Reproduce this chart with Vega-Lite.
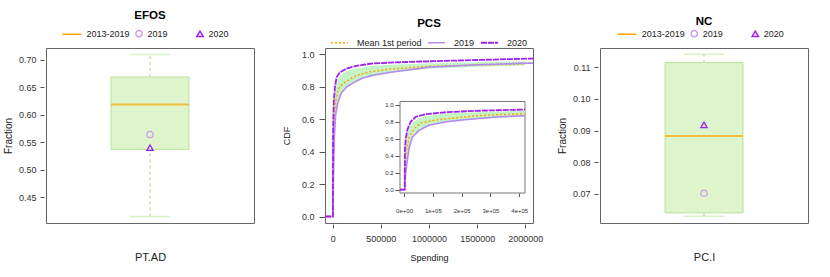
{
  "$schema": "https://vega.github.io/schema/vega-lite/v6.json",
  "background": "white",
  "padding": {"left": 2, "top": 9, "right": 5, "bottom": 5},
  "datasets": {
    "efos_box": [{"cat": "PT.AD", "min": 0.4146, "q1": 0.537, "median": 0.619, "q3": 0.669, "max": 0.710}],
    "efos_pts": [{"cat": "PT.AD", "s": "2019", "val": 0.564}, {"cat": "PT.AD", "s": "2020", "val": 0.540}],
    "nc_box": [{"cat": "PC.I", "min": 0.0629, "q1": 0.0640, "median": 0.0883, "q3": 0.1115, "max": 0.1141}],
    "nc_pts": [{"cat": "PC.I", "s": "2019", "val": 0.0702}, {"cat": "PC.I", "s": "2020", "val": 0.0918}],
    "band": [
      {"spending": 0, "lo": 0, "hi": 0},
      {"spending": 2500, "lo": 0, "hi": 0},
      {"spending": 4000, "lo": 0.15, "hi": 0.4},
      {"spending": 9400, "lo": 0.33, "hi": 0.62},
      {"spending": 17400, "lo": 0.51, "hi": 0.73},
      {"spending": 29000, "lo": 0.64, "hi": 0.79},
      {"spending": 52000, "lo": 0.71, "hi": 0.845},
      {"spending": 87000, "lo": 0.765, "hi": 0.875},
      {"spending": 145000, "lo": 0.805, "hi": 0.897},
      {"spending": 214000, "lo": 0.83, "hi": 0.91},
      {"spending": 313000, "lo": 0.857, "hi": 0.92},
      {"spending": 420000, "lo": 0.873, "hi": 0.93},
      {"spending": 600000, "lo": 0.89, "hi": 0.937},
      {"spending": 1000000, "lo": 0.912, "hi": 0.945},
      {"spending": 1500000, "lo": 0.925, "hi": 0.952},
      {"spending": 2000000, "lo": 0.932, "hi": 0.958}
    ],
    "curves": [
      {"series": "Mean 1st period", "spending": -80000, "cdf": 0},
      {"series": "Mean 1st period", "spending": -14000, "cdf": 0},
      {"series": "Mean 1st period", "spending": 0, "cdf": 0},
      {"series": "Mean 1st period", "spending": 2500, "cdf": 0},
      {"series": "Mean 1st period", "spending": 4000, "cdf": 0.3},
      {"series": "Mean 1st period", "spending": 10000, "cdf": 0.5},
      {"series": "Mean 1st period", "spending": 20000, "cdf": 0.64},
      {"series": "Mean 1st period", "spending": 35000, "cdf": 0.72},
      {"series": "Mean 1st period", "spending": 58000, "cdf": 0.786},
      {"series": "Mean 1st period", "spending": 90000, "cdf": 0.81},
      {"series": "Mean 1st period", "spending": 139000, "cdf": 0.833},
      {"series": "Mean 1st period", "spending": 200000, "cdf": 0.855},
      {"series": "Mean 1st period", "spending": 255000, "cdf": 0.872},
      {"series": "Mean 1st period", "spending": 330000, "cdf": 0.885},
      {"series": "Mean 1st period", "spending": 420000, "cdf": 0.896},
      {"series": "Mean 1st period", "spending": 600000, "cdf": 0.91},
      {"series": "Mean 1st period", "spending": 1000000, "cdf": 0.927},
      {"series": "Mean 1st period", "spending": 1500000, "cdf": 0.935},
      {"series": "Mean 1st period", "spending": 2000000, "cdf": 0.942},
      {"series": "2019", "spending": -80000, "cdf": 0},
      {"series": "2019", "spending": -14000, "cdf": 0},
      {"series": "2019", "spending": 0, "cdf": 0},
      {"series": "2019", "spending": 2500, "cdf": 0},
      {"series": "2019", "spending": 4000, "cdf": 0.12},
      {"series": "2019", "spending": 9400, "cdf": 0.3},
      {"series": "2019", "spending": 17400, "cdf": 0.49},
      {"series": "2019", "spending": 29000, "cdf": 0.62},
      {"series": "2019", "spending": 52000, "cdf": 0.70},
      {"series": "2019", "spending": 87000, "cdf": 0.76},
      {"series": "2019", "spending": 145000, "cdf": 0.80},
      {"series": "2019", "spending": 214000, "cdf": 0.826},
      {"series": "2019", "spending": 313000, "cdf": 0.855},
      {"series": "2019", "spending": 420000, "cdf": 0.872},
      {"series": "2019", "spending": 600000, "cdf": 0.89},
      {"series": "2019", "spending": 1000000, "cdf": 0.922},
      {"series": "2019", "spending": 1500000, "cdf": 0.936},
      {"series": "2019", "spending": 2000000, "cdf": 0.946},
      {"series": "2019", "spending": 2080000, "cdf": 0.947},
      {"series": "2020", "spending": -80000, "cdf": 0},
      {"series": "2020", "spending": -14000, "cdf": 0},
      {"series": "2020", "spending": 0, "cdf": 0},
      {"series": "2020", "spending": 2500, "cdf": 0},
      {"series": "2020", "spending": 3000, "cdf": 0.48},
      {"series": "2020", "spending": 6000, "cdf": 0.60},
      {"series": "2020", "spending": 12000, "cdf": 0.71},
      {"series": "2020", "spending": 23000, "cdf": 0.80},
      {"series": "2020", "spending": 41000, "cdf": 0.86},
      {"series": "2020", "spending": 75000, "cdf": 0.89},
      {"series": "2020", "spending": 140000, "cdf": 0.912},
      {"series": "2020", "spending": 214000, "cdf": 0.925},
      {"series": "2020", "spending": 300000, "cdf": 0.935},
      {"series": "2020", "spending": 420000, "cdf": 0.945},
      {"series": "2020", "spending": 600000, "cdf": 0.95},
      {"series": "2020", "spending": 1000000, "cdf": 0.958},
      {"series": "2020", "spending": 1500000, "cdf": 0.966},
      {"series": "2020", "spending": 2000000, "cdf": 0.974},
      {"series": "2020", "spending": 2080000, "cdf": 0.975}
    ]
  },
  "hconcat": [
    {
      "width": 208,
      "height": 175,
      "title": {"text": "EFOS", "offset": 8},
      "encoding": {
        "x": {"field": "cat", "type": "nominal", "axis": {"labels": false, "ticks": false, "title": "PT.AD", "titleFontSize": 11, "titlePadding": 28}}
      },
      "layer": [
        {
          "data": {"name": "efos_box"},
          "mark": {"type": "rule", "strokeDash": [3, 3], "color": "#a5d98a", "strokeWidth": 1},
          "encoding": {
            "y": {"field": "q3", "type": "quantitative", "scale": {"domain": [0.4028, 0.7218], "nice": false, "zero": false},
                  "axis": {"title": "Fraction", "titleFontSize": 10, "values": [0.45, 0.5, 0.55, 0.6, 0.65, 0.7], "format": ".2f", "offset": 2, "tickSize": 4, "labelPadding": 4, "titlePadding": 5, "labelOverlap": false, "labelSeparation": 0}},
            "y2": {"field": "max"}
          }
        },
        {
          "data": {"name": "efos_box"},
          "mark": {"type": "rule", "strokeDash": [3, 3], "color": "#a5d98a", "strokeWidth": 1},
          "encoding": {
            "y": {"field": "min", "type": "quantitative",
                  "axis": {"title": "Fraction", "titleFontSize": 10, "values": [0.45, 0.5, 0.55, 0.6, 0.65, 0.7], "format": ".2f", "offset": 2, "tickSize": 4, "labelPadding": 4, "titlePadding": 5, "labelOverlap": false, "labelSeparation": 0}},
            "y2": {"field": "q1"}
          }
        },
        {
          "data": {"name": "efos_box"},
          "mark": {"type": "tick", "size": 40, "thickness": 1.5, "color": "#c8ecb0"},
          "encoding": {"y": {"field": "min", "type": "quantitative",
                  "axis": {"title": "Fraction", "titleFontSize": 10, "values": [0.45, 0.5, 0.55, 0.6, 0.65, 0.7], "format": ".2f", "offset": 2, "tickSize": 4, "labelPadding": 4, "titlePadding": 5, "labelOverlap": false, "labelSeparation": 0}}}
        },
        {
          "data": {"name": "efos_box"},
          "mark": {"type": "tick", "size": 40, "thickness": 1.5, "color": "#c8ecb0"},
          "encoding": {"y": {"field": "max", "type": "quantitative",
                  "axis": {"title": "Fraction", "titleFontSize": 10, "values": [0.45, 0.5, 0.55, 0.6, 0.65, 0.7], "format": ".2f", "offset": 2, "tickSize": 4, "labelPadding": 4, "titlePadding": 5, "labelOverlap": false, "labelSeparation": 0}}}
        },
        {
          "data": {"name": "efos_box"},
          "mark": {"type": "bar", "size": 78, "fill": "#def4cd", "stroke": "#b8e39c", "strokeWidth": 1},
          "encoding": {"y": {"field": "q1", "type": "quantitative",
                  "axis": {"title": "Fraction", "titleFontSize": 10, "values": [0.45, 0.5, 0.55, 0.6, 0.65, 0.7], "format": ".2f", "offset": 2, "tickSize": 4, "labelPadding": 4, "titlePadding": 5, "labelOverlap": false, "labelSeparation": 0}}, "y2": {"field": "q3"}}
        },
        {
          "data": {"name": "efos_box"},
          "mark": {"type": "tick", "size": 78, "thickness": 2, "color": "#FFA500"},
          "encoding": {"y": {"field": "median", "type": "quantitative",
                  "axis": {"title": "Fraction", "titleFontSize": 10, "values": [0.45, 0.5, 0.55, 0.6, 0.65, 0.7], "format": ".2f", "offset": 2, "tickSize": 4, "labelPadding": 4, "titlePadding": 5, "labelOverlap": false, "labelSeparation": 0}}}
        },
        {
          "data": {"name": "efos_pts"},
          "mark": {"type": "point", "filled": false, "size": 40, "strokeWidth": 1.3, "opacity": 1},
          "encoding": {
            "y": {"field": "val", "type": "quantitative",
                  "axis": {"title": "Fraction", "titleFontSize": 10, "values": [0.45, 0.5, 0.55, 0.6, 0.65, 0.7], "format": ".2f", "offset": 2, "tickSize": 4, "labelPadding": 4, "titlePadding": 5, "labelOverlap": false, "labelSeparation": 0}},
            "color": {"field": "s", "type": "nominal", "scale": {"domain": ["2013-2019", "2019", "2020"], "range": ["#FFA500", "#C8A0E8", "#A020F0"]},
                      "legend": {"orient": "none", "legendX": 27.5, "legendY": -19, "direction": "horizontal", "columns": 3, "gridAlign": "all", "columnPadding": 2, "labelOffset": 4, "title": null, "symbolSize": 40, "symbolStrokeWidth": 1.5}},
            "shape": {"field": "s", "type": "nominal", "scale": {"domain": ["2013-2019", "2019", "2020"], "range": ["M-5,0H1", "circle", "triangle-up"]},
                      "legend": {"orient": "none", "legendX": 27.5, "legendY": -19, "direction": "horizontal", "columns": 3, "gridAlign": "all", "columnPadding": 2, "labelOffset": 4, "title": null, "symbolSize": 40, "symbolStrokeWidth": 1.5}}
          }
        }
      ]
    },
    {
      "spacing": 67,
      "bounds": "flush",
      "hconcat": [
        {
          "width": 208,
          "height": 175,
          "title": {"text": "PCS", "offset": 4},
          "layer": [
            {
              "encoding": {
                "x": {"field": "spending", "type": "quantitative", "scale": {"domain": [-80000, 2080000], "nice": false, "zero": false},
                      "axis": {"title": "Spending", "values": [0, 500000, 1000000, 1500000, 2000000], "format": "d", "tickSize": 4, "offset": 1, "labelPadding": 6, "titlePadding": 10, "labelOverlap": false}},
                "y": {"type": "quantitative", "scale": {"domain": [-0.04, 1.04], "nice": false, "zero": false},
                      "axis": {"title": "CDF", "values": [0, 0.2, 0.4, 0.6, 0.8, 1], "format": ".1f", "tickSize": 6, "offset": 0, "labelPadding": 5, "titlePadding": 10, "labelOverlap": false}}
              },
              "layer": [
                {
                  "data": {"name": "band"},
                  "mark": {"type": "area", "color": "#c4f3c4"},
                  "encoding": {
                    "y": {"field": "lo"},
                    "y2": {"field": "hi"}
                  }
                },
                {
                  "data": {"name": "curves"},
                  "mark": {"type": "line", "strokeJoin": "round"},
                  "encoding": {
                    "y": {"field": "cdf"},
                    "color": {"field": "series", "type": "nominal", "scale": {"domain": ["Mean 1st period", "2019", "2020"], "range": ["#FFA500", "#B48CF0", "#A020F0"]},
                              "legend": {"orient": "none", "legendX": 5, "legendY": -15, "direction": "horizontal", "title": null, "symbolSize": 289, "columnPadding": 2, "labelOffset": 8, "symbolStrokeWidth": 1.5}},
                    "strokeDash": {"field": "series", "type": "nominal", "scale": {"domain": ["Mean 1st period", "2019", "2020"], "range": [[2, 2], [1, 0], [6, 1]]},
                                   "legend": {"orient": "none", "legendX": 5, "legendY": -15, "direction": "horizontal", "title": null, "symbolSize": 289, "columnPadding": 2, "labelOffset": 8, "symbolStrokeWidth": 1.5}},
                    "strokeWidth": {"field": "series", "type": "nominal", "scale": {"domain": ["Mean 1st period", "2019", "2020"], "range": [1.5, 1.8, 2.4]}, "legend": null}
                  }
                }
              ]
            },
            {
              "encoding": {
                "x": {"type": "quantitative", "scale": {"domain": [-14000, 420000], "range": [75, 200], "nice": false, "zero": false},
                      "axis": {"orient": "bottom", "offset": -30, "values": [0, 100000, 200000, 300000, 400000], "labelExpr": "replace(format(datum.value, '.0e'), 'e+', 'e+0')", "labelFontSize": 6, "tickSize": 3.5, "labelPadding": 11, "title": null, "labelOverlap": false}},
                "y": {"type": "quantitative", "scale": {"domain": [-0.04, 1.04], "range": [145, 53.5], "nice": false, "zero": false},
                      "axis": {"orient": "left", "offset": -75, "values": [0, 0.2, 0.4, 0.6, 0.8, 1], "format": ".1f", "labelFontSize": 6, "tickSize": 5, "labelPadding": 2, "title": null, "labelOverlap": false}}
              },
              "layer": [
                {
                  "data": {"values": [{}]},
                  "mark": {"type": "rect", "fill": "white", "stroke": "#777", "strokeWidth": 1},
                  "encoding": {
                    "x": {"datum": -14000},
                    "x2": {"datum": 420000},
                    "y": {"datum": -0.04},
                    "y2": {"datum": 1.04}
                  }
                },
                {
                  "data": {"name": "band"},
                  "transform": [{"filter": "datum.spending <= 420000"}],
                  "mark": {"type": "area", "color": "#c4f3c4"},
                  "encoding": {
                    "x": {"field": "spending"},
                    "y": {"field": "lo"},
                    "y2": {"field": "hi"}
                  }
                },
                {
                  "data": {"name": "curves"},
                  "transform": [{"filter": "datum.spending >= -14000 && datum.spending <= 420000"}],
                  "mark": {"type": "line", "strokeJoin": "round"},
                  "encoding": {
                    "x": {"field": "spending"},
                    "y": {"field": "cdf"},
                    "color": {"field": "series", "type": "nominal", "legend": null},
                    "strokeDash": {"field": "series", "type": "nominal", "legend": null},
                    "strokeWidth": {"field": "series", "type": "nominal", "legend": null}
                  }
                }
              ]
            }
          ],
          "resolve": {"scale": {"x": "independent", "y": "independent"}, "axis": {"x": "independent", "y": "independent"}}
        },
        {
          "width": 208,
          "height": 175,
          "title": {"text": "NC", "offset": 2},
          "encoding": {
            "x": {"field": "cat", "type": "nominal", "axis": {"labels": false, "ticks": false, "title": "PC.I", "titleFontSize": 11, "titlePadding": 28}}
          },
          "layer": [
            {
              "data": {"name": "nc_box"},
              "mark": {"type": "rule", "strokeDash": [3, 3], "color": "#a5d98a", "strokeWidth": 1},
              "encoding": {
                "y": {"field": "q3", "type": "quantitative", "scale": {"domain": [0.0608, 0.1161], "nice": false, "zero": false},
                      "axis": {"title": "Fraction", "titleFontSize": 10, "values": [0.07, 0.08, 0.09, 0.10, 0.11], "format": ".2f", "offset": 2, "tickSize": 4, "labelPadding": 4, "titlePadding": 5, "labelOverlap": false}},
                "y2": {"field": "max"}
              }
            },
            {
              "data": {"name": "nc_box"},
              "mark": {"type": "rule", "strokeDash": [3, 3], "color": "#a5d98a", "strokeWidth": 1},
              "encoding": {"y": {"field": "min", "type": "quantitative", "title": "Fraction"}, "y2": {"field": "q1"}}
            },
            {
              "data": {"name": "nc_box"},
              "mark": {"type": "tick", "size": 40, "thickness": 1.5, "color": "#c8ecb0"},
              "encoding": {"y": {"field": "min", "type": "quantitative", "title": "Fraction"}}
            },
            {
              "data": {"name": "nc_box"},
              "mark": {"type": "tick", "size": 40, "thickness": 1.5, "color": "#c8ecb0"},
              "encoding": {"y": {"field": "max", "type": "quantitative", "title": "Fraction"}}
            },
            {
              "data": {"name": "nc_box"},
              "mark": {"type": "bar", "size": 78, "fill": "#def4cd", "stroke": "#b8e39c", "strokeWidth": 1},
              "encoding": {"y": {"field": "q1", "type": "quantitative", "title": "Fraction"}, "y2": {"field": "q3"}}
            },
            {
              "data": {"name": "nc_box"},
              "mark": {"type": "tick", "size": 78, "thickness": 2, "color": "#FFA500"},
              "encoding": {"y": {"field": "median", "type": "quantitative", "title": "Fraction"}}
            },
            {
              "data": {"name": "nc_pts"},
              "mark": {"type": "point", "filled": false, "size": 40, "strokeWidth": 1.3, "opacity": 1},
              "encoding": {
                "y": {"field": "val", "type": "quantitative", "title": "Fraction"},
                "color": {"field": "s", "type": "nominal", "scale": {"domain": ["2013-2019", "2019", "2020"], "range": ["#FFA500", "#C8A0E8", "#A020F0"]},
                          "legend": {"orient": "none", "legendX": 28.8, "legendY": -19, "direction": "horizontal", "columns": 3, "gridAlign": "all", "columnPadding": 2, "labelOffset": 4, "title": null, "symbolSize": 40, "symbolStrokeWidth": 1.5}},
                "shape": {"field": "s", "type": "nominal", "scale": {"domain": ["2013-2019", "2019", "2020"], "range": ["M-5,0H1", "circle", "triangle-up"]},
                          "legend": {"orient": "none", "legendX": 28.8, "legendY": -19, "direction": "horizontal", "columns": 3, "gridAlign": "all", "columnPadding": 2, "labelOffset": 4, "title": null, "symbolSize": 40, "symbolStrokeWidth": 1.5}}
              }
            }
          ]
        }
      ],
      "resolve": {"scale": {"color": "independent", "shape": "independent", "strokeDash": "independent", "strokeWidth": "independent"}}
    }
  ],
  "spacing": 71,
  "bounds": "flush",
  "resolve": {"scale": {"color": "independent", "shape": "independent", "strokeDash": "independent", "strokeWidth": "independent"}},
  "config": {
    "font": "Liberation Sans",
    "view": {"stroke": "#666", "strokeWidth": 1},
    "axis": {"domain": false, "grid": false, "labelFontSize": 9, "labelColor": "#333", "tickColor": "#555", "titleFontWeight": "normal", "titleColor": "#222", "titleFontSize": 9, "labelFlush": false, "labelOverlap": false},
    "axisQuantitative": {"labelOverlap": false},
    "title": {"fontSize": 11.5, "fontWeight": "bold", "color": "#000", "anchor": "middle"},
    "legend": {"labelFontSize": 9, "labelColor": "#222"}
  }
}
